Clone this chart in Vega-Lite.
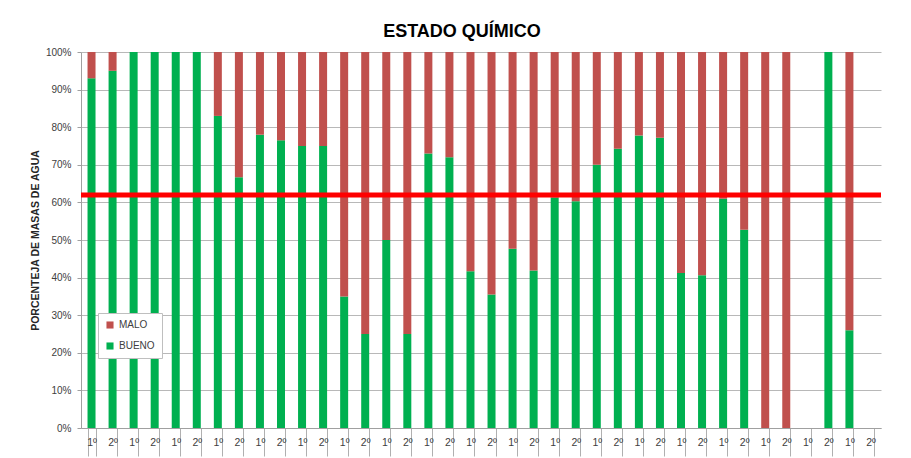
{
  "$schema": "https://vega.github.io/schema/vega-lite/v6.json",
  "autosize": {"type": "none"},
  "width": 800,
  "height": 376,
  "padding": {"left": 81, "top": 52, "right": 30, "bottom": 30},
  "background": "white",
  "title": {"text": "ESTADO QUÍMICO", "font": "Liberation Sans", "fontSize": 18, "fontWeight": "bold", "color": "#000000", "anchor": "middle", "dx": -19, "offset": 6},
  "config": {
    "view": {"stroke": null},
    "axisY": {
      "labelOverlap": false, "grid": true, "gridColor": "#B8B8B8", "domainColor": "#A0A0A0",
      "tickColor": "#A0A0A0", "tickSize": 4, "labelPadding": 6,
      "labelFont": "Liberation Sans", "labelFontSize": 10, "labelColor": "#404040",
      "titleFont": "Liberation Sans", "titleFontSize": 10.5, "titleFontWeight": "bold", "titleColor": "#262626"
    }
  },
  "layer": [
    {
      "data": {"values": [
        {"cat": "P01-1º", "estado": "BUENO", "pct": 93}, {"cat": "P01-1º", "estado": "MALO", "pct": 7},
        {"cat": "P02-2º", "estado": "BUENO", "pct": 95}, {"cat": "P02-2º", "estado": "MALO", "pct": 5},
        {"cat": "P03-1º", "estado": "BUENO", "pct": 100}, {"cat": "P03-1º", "estado": "MALO", "pct": 0},
        {"cat": "P04-2º", "estado": "BUENO", "pct": 100}, {"cat": "P04-2º", "estado": "MALO", "pct": 0},
        {"cat": "P05-1º", "estado": "BUENO", "pct": 100}, {"cat": "P05-1º", "estado": "MALO", "pct": 0},
        {"cat": "P06-2º", "estado": "BUENO", "pct": 100}, {"cat": "P06-2º", "estado": "MALO", "pct": 0},
        {"cat": "P07-1º", "estado": "BUENO", "pct": 83}, {"cat": "P07-1º", "estado": "MALO", "pct": 17},
        {"cat": "P08-2º", "estado": "BUENO", "pct": 66.7}, {"cat": "P08-2º", "estado": "MALO", "pct": 33.3},
        {"cat": "P09-1º", "estado": "BUENO", "pct": 78}, {"cat": "P09-1º", "estado": "MALO", "pct": 22},
        {"cat": "P10-2º", "estado": "BUENO", "pct": 76.5}, {"cat": "P10-2º", "estado": "MALO", "pct": 23.5},
        {"cat": "P11-1º", "estado": "BUENO", "pct": 75}, {"cat": "P11-1º", "estado": "MALO", "pct": 25},
        {"cat": "P12-2º", "estado": "BUENO", "pct": 75}, {"cat": "P12-2º", "estado": "MALO", "pct": 25},
        {"cat": "P13-1º", "estado": "BUENO", "pct": 35}, {"cat": "P13-1º", "estado": "MALO", "pct": 65},
        {"cat": "P14-2º", "estado": "BUENO", "pct": 25}, {"cat": "P14-2º", "estado": "MALO", "pct": 75},
        {"cat": "P15-1º", "estado": "BUENO", "pct": 50}, {"cat": "P15-1º", "estado": "MALO", "pct": 50},
        {"cat": "P16-2º", "estado": "BUENO", "pct": 25}, {"cat": "P16-2º", "estado": "MALO", "pct": 75},
        {"cat": "P17-1º", "estado": "BUENO", "pct": 73}, {"cat": "P17-1º", "estado": "MALO", "pct": 27},
        {"cat": "P18-2º", "estado": "BUENO", "pct": 72}, {"cat": "P18-2º", "estado": "MALO", "pct": 28},
        {"cat": "P19-1º", "estado": "BUENO", "pct": 41.7}, {"cat": "P19-1º", "estado": "MALO", "pct": 58.3},
        {"cat": "P20-2º", "estado": "BUENO", "pct": 35.5}, {"cat": "P20-2º", "estado": "MALO", "pct": 64.5},
        {"cat": "P21-1º", "estado": "BUENO", "pct": 47.7}, {"cat": "P21-1º", "estado": "MALO", "pct": 52.3},
        {"cat": "P22-2º", "estado": "BUENO", "pct": 41.9}, {"cat": "P22-2º", "estado": "MALO", "pct": 58.1},
        {"cat": "P23-1º", "estado": "BUENO", "pct": 61.3}, {"cat": "P23-1º", "estado": "MALO", "pct": 38.7},
        {"cat": "P24-2º", "estado": "BUENO", "pct": 60.3}, {"cat": "P24-2º", "estado": "MALO", "pct": 39.7},
        {"cat": "P25-1º", "estado": "BUENO", "pct": 70}, {"cat": "P25-1º", "estado": "MALO", "pct": 30},
        {"cat": "P26-2º", "estado": "BUENO", "pct": 74.3}, {"cat": "P26-2º", "estado": "MALO", "pct": 25.7},
        {"cat": "P27-1º", "estado": "BUENO", "pct": 77.8}, {"cat": "P27-1º", "estado": "MALO", "pct": 22.2},
        {"cat": "P28-2º", "estado": "BUENO", "pct": 77.2}, {"cat": "P28-2º", "estado": "MALO", "pct": 22.8},
        {"cat": "P29-1º", "estado": "BUENO", "pct": 41.2}, {"cat": "P29-1º", "estado": "MALO", "pct": 58.8},
        {"cat": "P30-2º", "estado": "BUENO", "pct": 40.6}, {"cat": "P30-2º", "estado": "MALO", "pct": 59.4},
        {"cat": "P31-1º", "estado": "BUENO", "pct": 61}, {"cat": "P31-1º", "estado": "MALO", "pct": 39},
        {"cat": "P32-2º", "estado": "BUENO", "pct": 52.7}, {"cat": "P32-2º", "estado": "MALO", "pct": 47.3},
        {"cat": "P33-1º", "estado": "BUENO", "pct": 0}, {"cat": "P33-1º", "estado": "MALO", "pct": 100},
        {"cat": "P34-2º", "estado": "BUENO", "pct": 0}, {"cat": "P34-2º", "estado": "MALO", "pct": 100},
        {"cat": "P35-1º", "estado": "BUENO", "pct": 0}, {"cat": "P35-1º", "estado": "MALO", "pct": 0},
        {"cat": "P36-2º", "estado": "BUENO", "pct": 100}, {"cat": "P36-2º", "estado": "MALO", "pct": 0},
        {"cat": "P37-1º", "estado": "BUENO", "pct": 26}, {"cat": "P37-1º", "estado": "MALO", "pct": 74},
        {"cat": "P38-2º", "estado": "BUENO", "pct": 0}, {"cat": "P38-2º", "estado": "MALO", "pct": 0}
      ]},
      "mark": {"type": "bar"},
      "encoding": {
        "x": {
          "field": "cat", "type": "ordinal", "sort": null,
          "scale": {"paddingInner": 0.62, "paddingOuter": 0.31},
          "axis": {
            "title": null, "tickBand": "extent", "tickSize": 28, "tickColor": "#B0B0B0",
            "domainColor": "#A0A0A0", "labelAngle": 0, "labelExpr": "split(datum.value, '-')[1]",
            "labelPadding": -19, "labelFont": "Liberation Sans", "labelFontSize": 10.5,
            "labelColor": "#404040", "grid": false, "labelBaseline": "top", "labelOverlap": false
          }
        },
        "y": {
          "field": "pct", "type": "quantitative", "stack": "zero",
          "scale": {"domain": [0, 100], "nice": false},
          "axis": {
            "values": [0, 10, 20, 30, 40, 50, 60, 70, 80, 90, 100],
            "labelExpr": "datum.value + '%'",
            "title": "PORCENTEJA DE MASAS DE AGUA",
            "titleX": -46, "titleY": 188, "titleAngle": 270, "titleBaseline": "middle", "titleAlign": "center"
          }
        },
        "color": {
          "field": "estado", "type": "nominal",
          "scale": {"domain": ["MALO", "BUENO"], "range": ["#C0504D", "#00B050"]},
          "legend": {
            "title": null, "orient": "none", "legendX": 17, "legendY": 261,
            "fillColor": "white", "strokeColor": "#BFBFBF", "padding": 7,
            "symbolType": "square", "symbolSize": 50, "symbolStrokeWidth": 0,
            "labelFont": "Liberation Sans", "labelFontSize": 10, "labelColor": "#404040",
            "rowPadding": 11
          }
        },
        "order": {"field": "estado", "sort": "ascending"}
      }
    },
    {
      "data": {"values": [{"umbral": 62}]},
      "mark": {"type": "rule", "color": "#FF0000", "strokeWidth": 5},
      "encoding": {"y": {"field": "umbral", "type": "quantitative",
        "axis": {
          "values": [0, 10, 20, 30, 40, 50, 60, 70, 80, 90, 100],
          "labelExpr": "datum.value + '%'",
          "title": "PORCENTEJA DE MASAS DE AGUA",
          "titleX": -46, "titleY": 188, "titleAngle": 270, "titleBaseline": "middle", "titleAlign": "center"
        }}}
    }
  ]
}
